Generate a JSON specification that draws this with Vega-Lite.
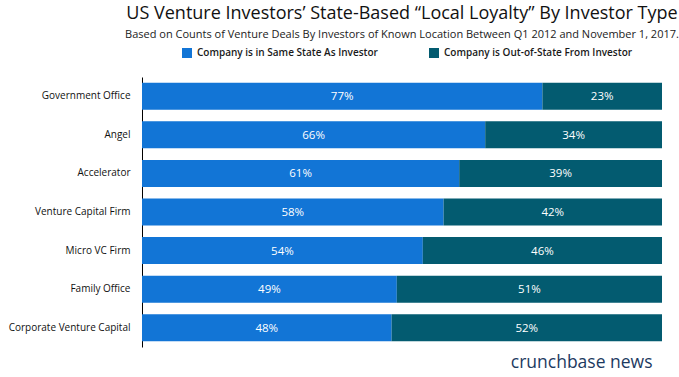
{
  "$schema": "https://vega.github.io/schema/vega-lite/v6.json",
  "width": 520,
  "height": 270,
  "autosize": {"type": "none"},
  "padding": {"left": 142, "top": 77, "right": 17, "bottom": 30},
  "background": "white",
  "config": {"font": "Open Sans", "view": {"stroke": null}},
  "title": {
    "text": "US Venture Investors’ State-Based “Local Loyalty” By Investor Type",
    "subtitle": "Based on Counts of Venture Deals By Investors of Known Location Between Q1 2012 and November 1, 2017.",
    "anchor": "middle",
    "fontSize": 18,
    "fontWeight": 500,
    "color": "#111111",
    "subtitleFontSize": 11,
    "subtitleColor": "#222222",
    "subtitlePadding": 6,
    "offset": 8
  },
  "data": {
    "values": [
      {"investor": "Government Office", "type": "Company is in Same State As Investor", "value": 0.77},
      {"investor": "Government Office", "type": "Company is Out-of-State From Investor", "value": 0.23},
      {"investor": "Angel", "type": "Company is in Same State As Investor", "value": 0.66},
      {"investor": "Angel", "type": "Company is Out-of-State From Investor", "value": 0.34},
      {"investor": "Accelerator", "type": "Company is in Same State As Investor", "value": 0.61},
      {"investor": "Accelerator", "type": "Company is Out-of-State From Investor", "value": 0.39},
      {"investor": "Venture Capital Firm", "type": "Company is in Same State As Investor", "value": 0.58},
      {"investor": "Venture Capital Firm", "type": "Company is Out-of-State From Investor", "value": 0.42},
      {"investor": "Micro VC Firm", "type": "Company is in Same State As Investor", "value": 0.54},
      {"investor": "Micro VC Firm", "type": "Company is Out-of-State From Investor", "value": 0.46},
      {"investor": "Family Office", "type": "Company is in Same State As Investor", "value": 0.49},
      {"investor": "Family Office", "type": "Company is Out-of-State From Investor", "value": 0.51},
      {"investor": "Corporate Venture Capital", "type": "Company is in Same State As Investor", "value": 0.48},
      {"investor": "Corporate Venture Capital", "type": "Company is Out-of-State From Investor", "value": 0.52}
    ]
  },
  "transform": [
    {"stack": "value", "groupby": ["investor"], "sort": [{"field": "type", "order": "descending"}], "as": ["v0", "v1"]}
  ],
  "encoding": {
    "y": {
      "field": "investor",
      "type": "nominal",
      "sort": null,
      "scale": {"paddingInner": 0.3, "paddingOuter": 0.15},
      "axis": {
        "title": null,
        "ticks": false,
        "domainColor": "#000000",
        "domainWidth": 1,
        "labelFontSize": 10,
        "labelFontWeight": 500,
        "labelColor": "#111111",
        "labelPadding": 12,
        "labelLimit": 200
      }
    }
  },
  "layer": [
    {
      "mark": {"type": "bar"},
      "encoding": {
        "x": {
          "field": "v0",
          "type": "quantitative",
          "scale": {"domain": [0, 1], "nice": false},
          "axis": {
            "title": "crunchbase news",
            "titleAnchor": "end",
            "titleX": 510,
            "titleAlign": "right",
            "titleColor": "#1d3a5f",
            "titleFontSize": 17.5,
            "titleFontWeight": 500,
            "titlePadding": 6,
            "labels": false,
            "ticks": false,
            "domain": false,
            "grid": false
          }
        },
        "x2": {"field": "v1"},
        "color": {
          "field": "type",
          "type": "nominal",
          "scale": {
            "domain": ["Company is in Same State As Investor", "Company is Out-of-State From Investor"],
            "range": ["#1275d6", "#035b70"]
          },
          "legend": {
            "title": null,
            "orient": "none",
            "direction": "horizontal",
            "legendX": 40,
            "legendY": -29,
            "symbolType": "square",
            "symbolSize": 100,
            "symbolStrokeWidth": 0,
            "symbolOpacity": 1,
            "labelFontSize": 10,
            "labelFontWeight": 600,
            "labelColor": "#1a1a1a",
            "labelOffset": 5,
            "columnPadding": 51,
            "labelLimit": 300
          }
        }
      }
    },
    {
      "transform": [
        {"fold": ["v0", "v1"], "as": ["edge", "pos"]},
        {"aggregate": [{"op": "mean", "field": "pos", "as": "mid"}], "groupby": ["investor", "type", "value"]}
      ],
      "mark": {"type": "text", "color": "white", "fontSize": 11.5, "fontWeight": 500, "baseline": "middle", "align": "center", "dy": 1},
      "encoding": {
        "x": {"field": "mid", "type": "quantitative"},
        "text": {"field": "value", "type": "quantitative", "format": ".0%"}
      }
    }
  ]
}
